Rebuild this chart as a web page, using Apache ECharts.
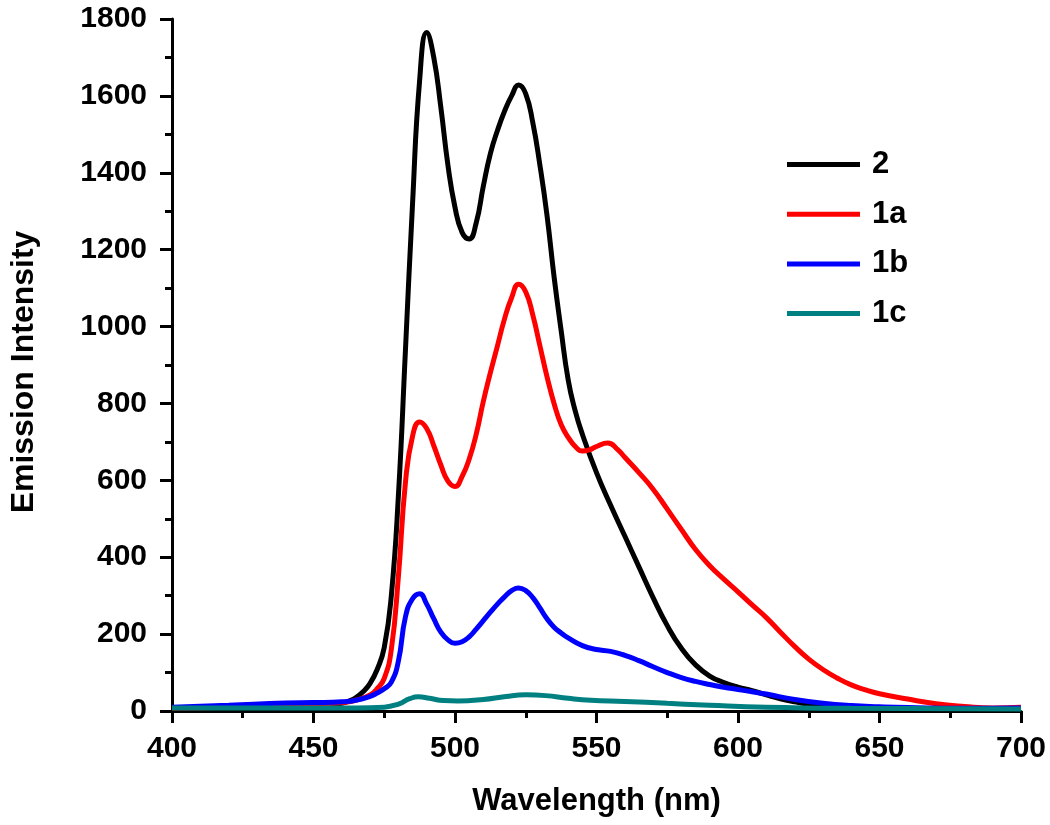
<!DOCTYPE html>
<html>
<head>
<meta charset="utf-8">
<script src="https://cdn.jsdelivr.net/npm/echarts@6/dist/echarts.min.js"></script>
<style>
html,body{margin:0;padding:0;background:#fff;}
#chart{width:1050px;height:825px;}
</style>
</head>
<body>
<div id="chart"></div>
<script>
// Series names
const seriesNames = ['2', '1a', '1b', '1c'];

// Series "2" (black)
const wl2 = [400,410,420,430,440,450,455,460,462.5,465,467.5,470,472.5,475,477.5,480,482.5,485,487.5,490,492.5,495,497.5,500,502.5,505,507.5,510,512.5,515,517.5,520,522.5,525,527.5,530,532.5,535,537.5,540,542.5,545,550,555,560,565,570,575,580,585,590,595,600,605,610,615,620,625,630,640,650,660,680,700];
const int2 = [8,9,10,11,12,14,16,20,26,35,50,72,108,165,300,560,940,1320,1640,1765,1700,1570,1420,1310,1245,1228,1270,1365,1450,1510,1560,1600,1628,1605,1530,1420,1290,1130,990,861,780,720,620,535,455,375,295,222,163,120,91,74,62,53,42,32,24,17,12,7,6,5,5,5];

// Series "1a" (red)
const wl1a = [400,420,440,450,460,465,470,472.5,475,477.5,480,482.5,485,487.5,490,492.5,495,497.5,500,502.5,505,507.5,510,512.5,515,517.5,520,522.5,525,527.5,530,532.5,535,537.5,540,542.5,545,547.5,550,554,557.5,560,565,570,575,580,585,590,595,600,605,610,615,620,625,630,635,640,645,650,660,670,680,690,700];
const int1a = [8,10,14,16,22,28,42,58,85,160,350,595,715,752,735,690,640,598,584,610,655,720,805,880,950,1020,1075,1110,1090,1030,950,870,800,745,712,688,676,679,688,697,680,660,620,577,525,472,420,378,343,310,276,243,205,168,135,108,86,68,55,45,31,19,12,8,10];

// Series "1b" (blue)
const wl1b = [400,420,440,450,460,465,470,472.5,475,477.5,480,482.5,485,487.5,490,492.5,495,497.5,500,502.5,505,507.5,510,512.5,515,517.5,520,522.5,525,527.5,530,532.5,535,537.5,540,545,550,555,560,565,570,575,580,585,590,595,600,605,610,620,630,640,650,660,680,700];
const int1b = [10,15,21,22,24,28,38,47,58,75,130,245,292,305,278,240,205,185,176,180,193,213,235,257,278,297,313,320,313,295,268,240,218,203,190,170,160,155,145,131,115,100,87,77,69,62,56,50,44,30,20,14,11,9,7,8];

// Series "1c" (teal)
const wl1c = [400,440,465,475,480,484,487,491,496,501,510,518,525,532,540,548,560,575,590,610,640,700];
const int1c = [8,8,8,10,18,32,37,33,27,26,30,38,42,40,33,28,25,20,15,10,7,5];

// Axis ticks
const xTicks = [400,450,500,550,600,650,700];
const yTicks = [0,200,400,600,800,1000,1200,1400,1600,1800];

const colors = ['#000000', '#ff0000', '#0000ff', '#008080'];
const wls = [wl2, wl1a, wl1b, wl1c];
const ints = [int2, int1a, int1b, int1c];

const FONT = 'Liberation Sans, Arial, sans-serif';

const series = seriesNames.map((name, i) => ({
  name: name,
  type: 'line',
  smooth: 0.5,
  symbol: 'none',
  showSymbol: false,
  data: wls[i].map((w, j) => [w, ints[i][j]]),
  lineStyle: { color: colors[i], width: 5 },
  itemStyle: { color: colors[i] },
  z: 5 + i
}));

const chart = echarts.init(document.getElementById('chart'), null, { renderer: 'canvas' });
chart.setOption({
  animation: false,
  backgroundColor: '#ffffff',
  grid: { left: 169, right: 29, top: 19, bottom: 114, containLabel: false },
  legend: {
    orient: 'vertical',
    left: 782,
    top: 144,
    itemWidth: 73,
    itemHeight: 5,
    itemGap: 18.7,
    icon: 'rect',
    data: seriesNames,
    textStyle: { fontFamily: FONT, fontWeight: 'bold', fontSize: 31, lineHeight: 30, color: '#000', padding: [0, 0, 0, 7] }
  },
  xAxis: {
    type: 'value',
    min: xTicks[0],
    max: xTicks[xTicks.length - 1],
    interval: 50,
    name: 'Wavelength (nm)',
    nameLocation: 'middle',
    nameGap: 75,
    nameTextStyle: { fontFamily: FONT, fontWeight: 'bold', fontSize: 31, color: '#000' },
    axisLine: { show: true, onZero: false, lineStyle: { color: '#000', width: 3 } },
    axisTick: { show: true, inside: false, length: 12, lineStyle: { color: '#000', width: 3 } },
    minorTick: { show: true, splitNumber: 2, length: 7, lineStyle: { color: '#000', width: 3 } },
    splitLine: { show: false },
    axisLabel: { margin: 23, fontFamily: FONT, fontWeight: 'bold', fontSize: 30, color: '#000', formatter: v => String(v) }
  },
  yAxis: {
    type: 'value',
    min: yTicks[0],
    max: yTicks[yTicks.length - 1],
    interval: 200,
    name: 'Emission Intensity',
    nameLocation: 'middle',
    nameGap: 132,
    nameTextStyle: { fontFamily: FONT, fontWeight: 'bold', fontSize: 32, color: '#000', padding: [0, 14, 0, 0] },
    axisLine: { show: true, lineStyle: { color: '#000', width: 3 } },
    axisTick: { show: true, inside: false, length: 12, lineStyle: { color: '#000', width: 3 } },
    minorTick: { show: true, splitNumber: 2, length: 7, lineStyle: { color: '#000', width: 3 } },
    splitLine: { show: false },
    axisLabel: { margin: 25, fontFamily: FONT, fontWeight: 'bold', fontSize: 30, color: '#000', formatter: v => String(v) }
  },
  series: series
});
</script>
</body>
</html>
